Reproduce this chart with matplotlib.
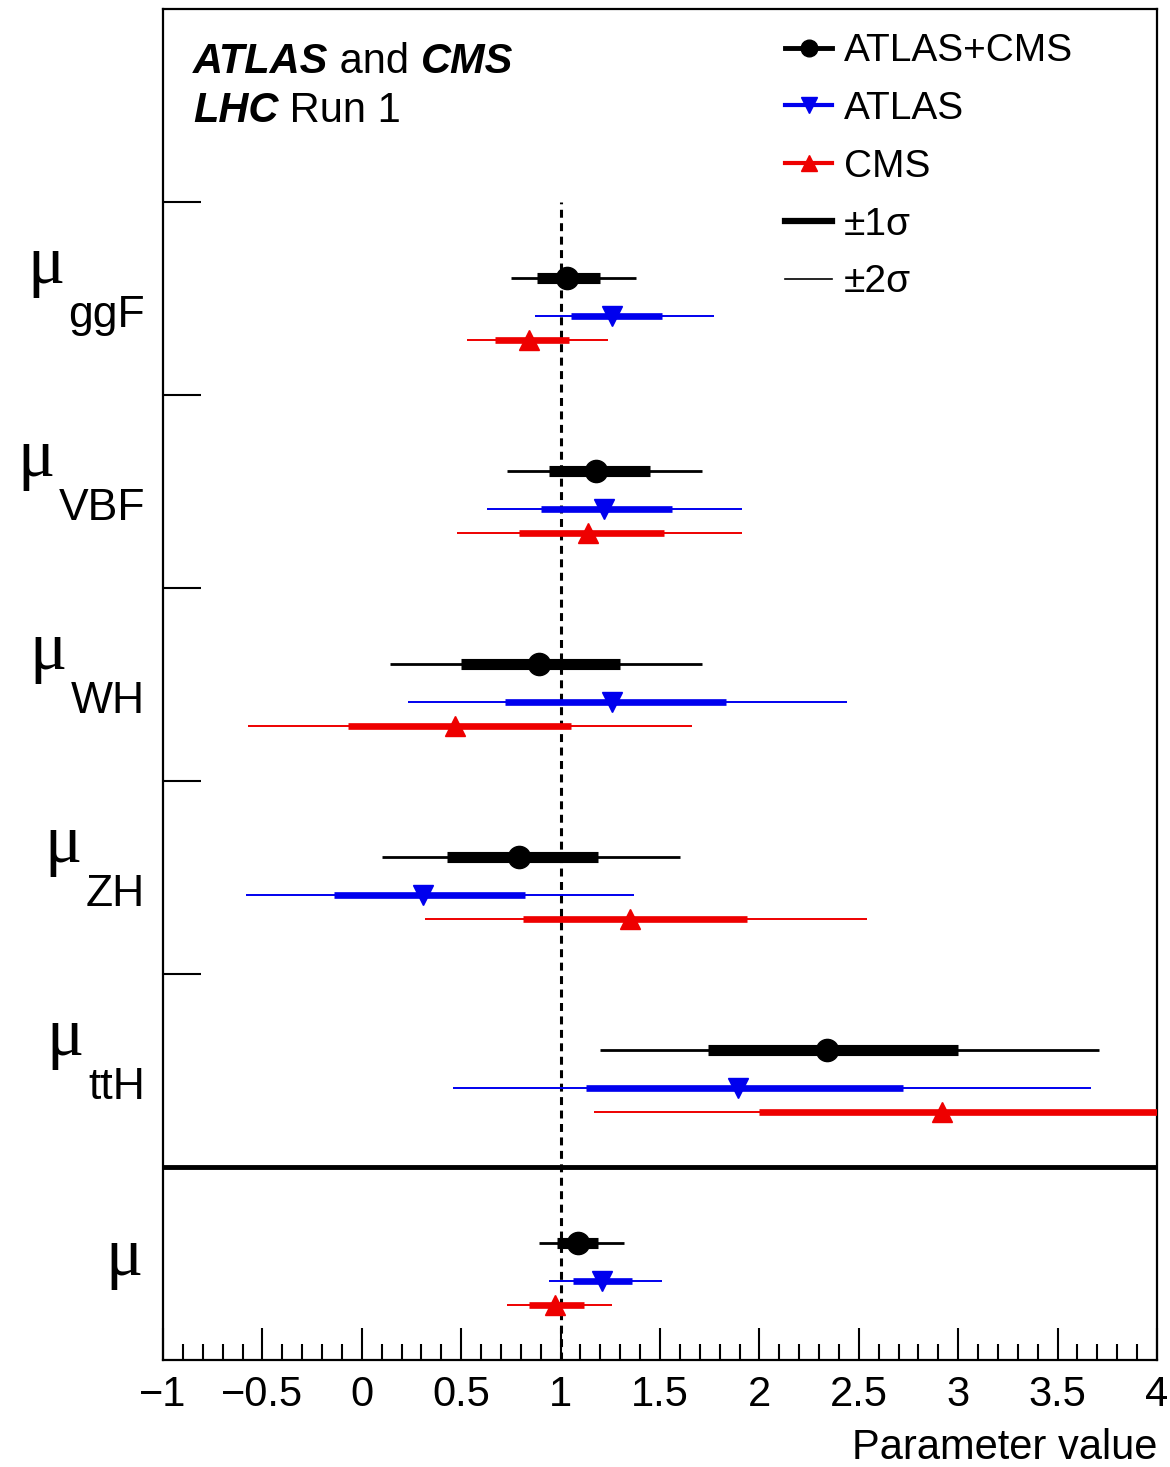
import numpy as np
import matplotlib.pyplot as plt
from matplotlib.lines import Line2D
from matplotlib.ticker import MultipleLocator

plt.rcParams['font.family'] = ['Liberation Sans', 'DejaVu Sans']

# production modes, top to bottom; last row is the global signal strength
modes = ['ggF', 'VBF', 'WH', 'ZH', 'ttH', '']

# ATLAS+CMS
comb_val = [1.03, 1.18, 0.89, 0.79, 2.34, 1.09]
comb_lo1 = [0.88, 0.94, 0.50, 0.43, 1.74, 0.98]
comb_hi1 = [1.20, 1.45, 1.30, 1.19, 3.00, 1.19]
comb_lo2 = [0.75, 0.73, 0.14, 0.10, 1.20, 0.89]
comb_hi2 = [1.38, 1.71, 1.71, 1.60, 3.71, 1.32]

# ATLAS
atlas_val = [1.26, 1.22, 1.26, 0.31, 1.89, 1.21]
atlas_lo1 = [1.05, 0.90, 0.72, -0.14, 1.13, 1.06]
atlas_hi1 = [1.51, 1.56, 1.83, 0.82, 2.72, 1.36]
atlas_lo2 = [0.87, 0.63, 0.23, -0.58, 0.46, 0.94]
atlas_hi2 = [1.77, 1.91, 2.44, 1.37, 3.67, 1.51]

# CMS
cms_val = [0.84, 1.14, 0.47, 1.35, 2.92, 0.97]
cms_lo1 = [0.67, 0.79, -0.07, 0.81, 2.00, 0.84]
cms_hi1 = [1.04, 1.52, 1.05, 1.94, 4.05, 1.12]
cms_lo2 = [0.53, 0.48, -0.57, 0.32, 1.17, 0.73]
cms_hi2 = [1.24, 1.91, 1.66, 2.54, 5.10, 1.26]

xticks = np.arange(-1, 4.01, 0.5)
xticklabels = ['\u22121', '\u22120.5', '0', '0.5', '1', '1.5', '2', '2.5', '3', '3.5', '4']
sm_mu = 1.0

fig = plt.figure(figsize=(11.7, 14.67), dpi=100)
ax = fig.add_axes([163 / 1170, 107 / 1467, 994 / 1170, 1351 / 1467])
ax.set_xlim(-1, 4)
ax.set_ylim(0, len(modes) + 1)

band = np.arange(len(modes))[::-1]

# (values, 1 sigma, 2 sigma, colour, marker, row offset, widths, marker size)
series = [
    (comb_val, comb_lo1, comb_hi1, comb_lo2, comb_hi2, 'black', 'o', 0.606, 8.0, 2.0, 16),
    (atlas_val, atlas_lo1, atlas_hi1, atlas_lo2, atlas_hi2, '#0000ee', 'v', 0.409, 4.8, 1.4, 14),
    (cms_val, cms_lo1, cms_hi1, cms_lo2, cms_hi2, '#ee0000', '^', 0.285, 4.8, 1.4, 14),
]

ax.vlines(sm_mu, 0, len(modes), colors='black', lw=2.2, linestyles=(0, (2.6, 1.8)), zorder=1)

for val, lo1, hi1, lo2, hi2, col, mk, off, lw1, lw2, ms in series:
    y = band + off
    ax.hlines(y, lo2, hi2, colors=col, lw=lw2, capstyle='butt', zorder=2)
    ax.hlines(y, lo1, hi1, colors=col, lw=lw1, capstyle='butt', zorder=3)
    ax.plot(val, y, ls='none', marker=mk, color=col, ms=ms, zorder=4)

ax.axhline(1, color='black', lw=3.5, zorder=5)

# y labels: mu with big subscript
for i, m in enumerate(modes):
    if m:
        sub = ax.text(-0.018, band[i] + 0.352, m, transform=ax.get_yaxis_transform(),
                      ha='right', va='baseline', fontsize=32)
        ax.annotate('\u03bc', xy=(0, band[i] + 0.58), xycoords=(sub, 'data'),
                    xytext=(-3, 0), textcoords='offset points',
                    ha='right', va='baseline', fontsize=50, family='Liberation Serif')
    else:
        ax.text(-0.020, band[i] + 0.44, '\u03bc', transform=ax.get_yaxis_transform(),
                ha='right', va='baseline', fontsize=50, family='Liberation Serif')

# header text
t1 = ax.text(0.030, 6.668, 'ATLAS', fontsize=30, weight='bold', style='italic', va='baseline',
             transform=ax.get_yaxis_transform())
t2 = ax.annotate(' and ', xy=(1, 0), xycoords=t1, fontsize=30, va='bottom')
ax.annotate('CMS', xy=(1, 0), xycoords=t2, fontsize=30, weight='bold', style='italic', va='bottom')
t3 = ax.text(0.030, 6.415, 'LHC', fontsize=30, weight='bold', style='italic', va='baseline',
             transform=ax.get_yaxis_transform())
ax.annotate(' Run 1', xy=(1, 0), xycoords=t3, fontsize=30, va='bottom')

handles = [
    Line2D([], [], color='black', lw=3.5, marker='o', ms=12),
    Line2D([], [], color='#0000ee', lw=3.0, marker='v', ms=11),
    Line2D([], [], color='#ee0000', lw=3.0, marker='^', ms=11),
    Line2D([], [], color='black', lw=4.5),
    Line2D([], [], color='black', lw=1.2),
]
labels = ['ATLAS+CMS', 'ATLAS', 'CMS', '\u00b11\u03c3', '\u00b12\u03c3']
ax.legend(handles, labels, loc='upper left', bbox_to_anchor=(0.626, 0.982), frameon=False,
          fontsize=28, handlelength=1.2, handletextpad=0.3, labelspacing=0.56,
          borderpad=0, borderaxespad=0)

ax.set_xticks(xticks)
ax.set_xticklabels(xticklabels)
ax.xaxis.set_minor_locator(MultipleLocator(0.1))
ax.tick_params(axis='x', which='major', direction='in', length=23, width=1.5, labelsize=30, pad=11)
ax.tick_params(axis='x', which='minor', direction='in', length=11.5, width=1.5)
ax.set_yticks(band[:-1] + 1)
ax.tick_params(axis='y', which='major', direction='in', length=27, width=1.5, labelleft=False)
for s in ax.spines.values():
    s.set_linewidth(1.6)

ax.set_xlabel('Parameter value', loc='right', fontsize=30, labelpad=9)

fig.savefig('out.png', dpi=100)
